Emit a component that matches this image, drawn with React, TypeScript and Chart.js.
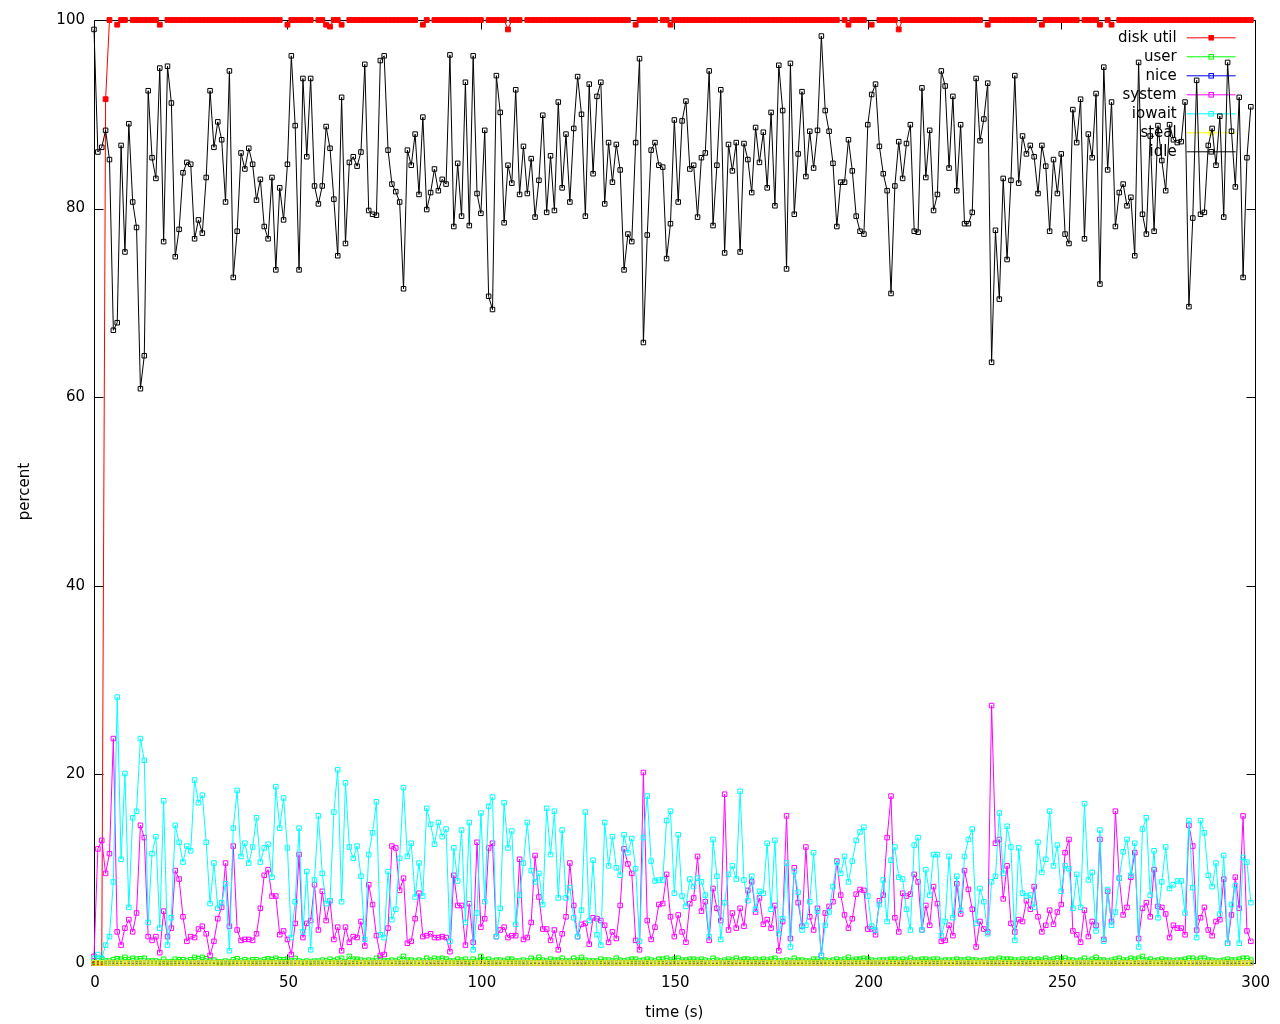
import React, { useEffect, useRef } from "react";
import { Chart, registerables } from "chart.js";

Chart.register(...registerables);

const FONT_FAMILY = '"DejaVu Sans", "Liberation Sans", sans-serif';

const seriesNames = ["disk util", "user", "nice", "system", "iowait", "steal", "idle"];
const seriesColors = ["#ff0000", "#00ff00", "#0000ff", "#ff00ff", "#00ffff", "#ffff00", "#000000"];
const xTickValues = [0, 50, 100, 150, 200, 250, 300];
const yTickValues = [0, 20, 40, 60, 80, 100];

const diskUtil: (number | null)[] = [
  0, 0, 0, 91.6, 100, null, 99.5, 100, 100, null, 100, 100, 100, 100, 100, 100, 100, 99.5, null, 100,
  100, 100, 100, 100, 100, 100, 100, 100, 100, 100, 100, 100, 100, 100, 100, 100, 100, 100, 100, 100,
  100, 100, 100, 100, 100, 100, 100, 100, 100, null, 99.5, 100, 100, 100, 100, 100, 100, null, 100, 100,
  99.5, 99.3, 100, 100, 99.5, null, 100, 100, 100, 100, 100, 100, 100, 100, 100, 100, 100, 100, 100, 100,
  100, 100, 100, 100, null, 99.5, 100, null, 100, 100, 100, 100, 100, 100, 100, 100, 100, 100, 100, 100,
  100, null, 100, 100, 100, 100, 100, 99.0, 100, 100, 100, null, 100, 100, 100, 100, 100, 100, 100, 100,
  100, 100, 100, 100, 100, 100, 100, 100, 100, 100, 100, 100, 100, 100, 100, 100, 100, 100, 100, null,
  99.5, 100, 100, 100, 100, 100, null, 100, 100, 99.5, 100, 100, 100, 100, 100, 100, 100, 100, 100, 100,
  100, 100, 100, 100, 100, 100, 100, 100, 100, 100, 100, 100, 100, 100, 100, 100, 100, 100, 100, 100,
  100, 100, 100, 100, 100, 100, 100, 100, 100, 100, 100, 100, 100, null, 100, 99.5, 100, 100, 100, 100,
  null, 99.5, null, 100, 100, 100, 100, 100, 99.0, 100, 100, 100, 100, 100, 100, 100, 100, 100, 100, 100,
  100, 100, 100, 100, 100, 100, 100, 100, 100, 100, null, 99.5, 100, 100, 100, 100, 100, 100, 100, 100,
  100, 100, 100, 100, null, 99.5, 100, 100, 100, 100, 100, 100, 100, 100, 100, null, 100, 100, 100, 100,
  99.5, null, 100, 99.5, null, 100, 100, 100, 100, 100, 100, 100, 100, 100, 100, 100, 100, 100, 100, 100,
  100, 100, 100, 100, 100, 100, 100, 100, 100, 100, 100, 100, 100, 100, 100, 100, 100, 100, 100, 100,
];

const user: number[] = [
  0.2, 0.5, 0.4, 0.2, 0.2, 0.35, 0.45, 0.4, 0.6, 0.35, 0.5, 0.4, 0.45, 0.5, 0.2, 0.2, 0.2, 0.1, 0.4, 0.1,
  0.15, 0.4, 0.35, 0.35, 0.2, 0.35, 0.6, 0.45, 0.6, 0.45, 0.2, 0.3, 0.1, 0.1, 0.2, 0.1, 0.35, 0.45, 0.2, 0.35,
  0.2, 0.35, 0.35, 0.2, 0.35, 0.45, 0.35, 0.5, 0.35, 0.35, 0.4, 0.2, 0.5, 0.2, 0.1, 0.2, 0.1, 0.2, 0.2, 0.3,
  0.2, 0.4, 0.2, 0.4, 0.5, 0.1, 0.7, 0.4, 0.4, 0.3, 0.2, 0.3, 0.2, 0.5, 0.5, 0.2, 0.2, 0.3, 0.2, 0.4,
  0.7, 0.3, 0.3, 0.2, 0.3, 0.2, 0.5, 0.3, 0.5, 0.4, 0.5, 0.4, 0.2, 0.2, 0.4, 0.3, 0.4, 0.1, 0.4, 0.2,
  0.7, 0.3, 0.4, 0.2, 0.3, 0.3, 0.2, 0.4, 0.4, 0.2, 0.2, 0.3, 0.2, 0.5, 0.3, 0.6, 0.3, 0.2, 0.4, 0.3,
  0.3, 0.5, 0.2, 0.2, 0.5, 0.3, 0.6, 0.3, 0.2, 0.2, 0.2, 0.4, 0.3, 0.3, 0.2, 0.5, 0.3, 0.2, 0.3, 0.4,
  0.4, 0.2, 0.3, 0.4, 0.3, 0.2, 0.4, 0.4, 0.5, 0.3, 0.4, 0.5, 0.3, 0.3, 0.4, 0.4, 0.3, 0.4, 0.3, 0.2,
  0.5, 0.3, 0.2, 0.3, 0.4, 0.3, 0.5, 0.3, 0.4, 0.4, 0.3, 0.4, 0.3, 0.4, 0.3, 0.4, 0.5, 0.2, 0.2, 0.3,
  0.2, 0.5, 0.3, 0.3, 0.2, 0.2, 0.4, 0.4, 0.3, 0.3, 0.2, 0.3, 0.4, 0.3, 0.4, 0.6, 0.3, 0.4, 0.4, 0.5,
  0.4, 0.3, 0.2, 0.3, 0.3, 0.3, 0.4, 0.4, 0.3, 0.4, 0.3, 0.5, 0.3, 0.3, 0.4, 0.4, 0.3, 0.4, 0.4, 0.2,
  0.3, 0.3, 0.3, 0.4, 0.3, 0.3, 0.4, 0.3, 0.3, 0.2, 0.3, 0.3, 0.4, 0.3, 0.5, 0.4, 0.4, 0.4, 0.3, 0.3,
  0.4, 0.3, 0.4, 0.3, 0.4, 0.3, 0.5, 0.3, 0.4, 0.5, 0.4, 0.5, 0.3, 0.3, 0.2, 0.3, 0.5, 0.2, 0.4, 0.6,
  0.3, 0.3, 0.2, 0.3, 0.4, 0.5, 0.3, 0.3, 0.5, 0.4, 0.5, 0.7, 0.3, 0.4, 0.2, 0.3, 0.4, 0.3, 0.3, 0.2,
  0.3, 0.3, 0.4, 0.5, 0.5, 0.3, 0.5, 0.5, 0.3, 0.3, 0.2, 0.2, 0.3, 0.4, 0.3, 0.3, 0.4, 0.5, 0.5, 0.3,
];

const nice: number[] = new Array(300).fill(0);
const steal: number[] = new Array(300).fill(0);

const system: number[] = [
  0.7, 12.1, 13.0, 9.5, 11.6, 23.8, 3.3, 1.9, 3.7, 4.6, 3.3, 5.3, 14.6, 13.3, 2.8, 2.4, 2.8, 1.1, 5.5, 2.8,
  3.7, 9.8, 8.9, 4.9, 2.3, 2.8, 2.7, 3.6, 3.9, 3.1, 0.8, 2.3, 4.7, 5.9, 10.6, 3.9, 12.4, 3.5, 2.4, 2.5,
  2.5, 2.4, 3.1, 5.8, 9.3, 9.9, 7.1, 7.1, 3.0, 3.4, 2.5, 0.9, 4.2, 11.5, 2.7, 4.2, 4.5, 8.3, 3.5, 7.6,
  4.5, 6.6, 2.5, 3.8, 1.3, 3.8, 2.2, 2.8, 2.7, 4.4, 1.8, 8.3, 6.2, 2.9, 0.8, 0.9, 3.7, 12.4, 12.2, 7.7,
  9.0, 2.1, 2.3, 4.7, 7.4, 2.8, 2.9, 3.1, 2.7, 2.7, 2.8, 2.7, 1.2, 9.3, 6.1, 6.1, 1.9, 6.3, 2.2, 12.8,
  3.8, 4.7, 12.2, 12.7, 2.8, 3.5, 3.8, 2.7, 2.9, 2.9, 11.0, 2.5, 2.7, 4.3, 11.4, 7.0, 3.6, 3.6, 2.4, 3.5,
  1.4, 3.1, 4.9, 10.6, 6.1, 2.8, 4.1, 4.2, 2.0, 4.8, 4.7, 4.5, 4.0, 2.2, 3.3, 2.6, 6.1, 12.1, 10.5, 9.5,
  2.4, 1.4, 20.2, 4.5, 2.5, 3.8, 6.2, 6.3, 9.4, 4.9, 2.8, 5.1, 3.3, 2.2, 6.3, 6.9, 11.3, 5.5, 6.5, 2.4,
  7.9, 5.8, 4.5, 17.9, 3.5, 5.3, 3.7, 5.8, 3.9, 7.7, 8.6, 5.4, 6.9, 4.1, 4.6, 3.7, 6.1, 1.3, 4.4, 15.6,
  2.6, 10.1, 6.4, 3.9, 12.3, 4.9, 3.5, 5.8, 0.8, 5.3, 6.0, 6.5, 10.8, 7.2, 5.1, 3.7, 4.7, 7.3, 7.8, 7.7,
  3.6, 3.6, 3.0, 6.6, 7.2, 13.3, 17.7, 4.8, 3.3, 7.4, 7.1, 7.3, 9.4, 8.6, 3.5, 6.1, 4.0, 8.1, 6.3, 2.3,
  2.4, 4.0, 2.9, 8.4, 5.2, 9.8, 7.8, 5.7, 1.7, 4.4, 3.6, 3.3, 27.3, 12.7, 13.1, 6.8, 10.3, 4.2, 3.3, 4.6,
  4.4, 6.6, 5.7, 8.1, 4.9, 3.3, 4.0, 5.6, 4.1, 5.4, 6.2, 11.7, 13.1, 3.4, 3.0, 2.2, 5.6, 2.8, 4.4, 4.0,
  13.1, 2.5, 7.6, 4.4, 16.1, 9.0, 5.1, 5.9, 9.1, 11.7, 2.6, 5.8, 6.4, 4.9, 9.9, 6.0, 5.9, 5.2, 2.7, 4.0,
  3.7, 3.7, 3.0, 14.6, 12.4, 3.5, 4.8, 5.9, 3.5, 2.9, 4.4, 4.6, 8.9, 2.1, 5.1, 9.1, 5.8, 15.6, 3.4, 2.3,
];

const iowait: number[] = [
  0.5, 0.9, 0.5, 1.9, 2.8, 8.6, 28.2, 11.0, 20.1, 5.9, 15.4, 16.1, 23.8, 21.5, 4.3, 11.6, 13.4, 3.7, 17.2, 1.9,
  4.8, 14.6, 12.8, 10.7, 12.4, 11.9, 19.4, 17.0, 17.8, 12.8, 6.3, 10.6, 5.8, 6.4, 8.4, 1.3, 14.3, 18.3, 11.3, 12.7,
  10.6, 12.3, 15.4, 10.7, 12.2, 12.6, 9.1, 18.7, 14.3, 17.5, 12.2, 2.7, 6.5, 14.3, 3.3, 9.7, 1.4, 8.8, 15.6, 9.5,
  6.3, 6.6, 16.0, 20.5, 6.5, 19.1, 12.3, 11.1, 12.4, 9.2, 2.5, 11.5, 13.8, 17.1, 3.0, 2.7, 9.7, 4.6, 5.7, 11.1,
  18.6, 11.3, 12.7, 7.0, 10.6, 7.1, 16.4, 14.7, 12.6, 14.9, 13.4, 14.2, 2.3, 12.2, 8.7, 14.1, 4.3, 14.9, 1.4, 5.3,
  15.9, 6.5, 16.6, 17.6, 2.8, 5.8, 17.0, 12.2, 14.0, 4.1, 7.2, 10.6, 14.9, 9.8, 8.6, 9.5, 6.2, 16.4, 11.5, 16.1,
  6.9, 14.1, 6.9, 8.0, 4.8, 2.8, 5.6, 16.0, 4.5, 10.9, 3.0, 1.9, 14.9, 10.3, 13.4, 10.1, 9.3, 13.6, 11.7, 13.2,
  10.0, 2.3, 13.3, 17.7, 10.8, 8.7, 8.8, 8.8, 15.1, 16.1, 7.4, 13.6, 7.1, 6.0, 8.9, 8.1, 9.0, 8.6, 7.2, 2.8,
  13.1, 9.2, 2.5, 6.4, 9.4, 10.3, 8.9, 18.2, 8.8, 6.6, 9.2, 5.7, 7.6, 7.4, 12.7, 5.7, 13.0, 3.1, 4.7, 10.6,
  1.7, 9.7, 7.5, 3.5, 4.0, 6.5, 11.7, 5.5, 0.8, 4.0, 5.4, 8.1, 10.7, 9.5, 11.3, 8.6, 10.8, 13.0, 13.9, 14.4,
  7.1, 3.9, 3.5, 6.2, 8.8, 4.4, 10.9, 12.3, 9.1, 8.9, 5.7, 3.5, 12.5, 13.3, 3.5, 9.9, 7.2, 11.5, 11.5, 2.9,
  4.4, 11.3, 4.8, 9.2, 5.6, 11.3, 13.1, 14.2, 4.2, 7.9, 6.5, 3.1, 8.6, 9.2, 15.9, 9.5, 14.5, 12.3, 2.4, 12.2,
  7.4, 7.1, 7.2, 5.9, 12.8, 9.6, 11.0, 16.1, 10.3, 12.5, 7.6, 10.3, 10.0, 5.8, 9.4, 5.9, 16.9, 8.8, 9.6, 3.4,
  14.1, 2.3, 7.8, 4.0, 5.4, 9.0, 11.8, 13.1, 9.3, 12.7, 1.7, 14.2, 15.4, 7.2, 11.9, 4.8, 8.6, 12.3, 7.9, 8.3,
  8.7, 8.7, 5.3, 15.1, 8.0, 2.7, 15.1, 13.8, 9.3, 8.1, 10.6, 5.2, 11.4, 2.1, 6.2, 8.2, 2.1, 11.2, 10.7, 6.4,
];

const idle: number[] = [
  99.0, 86.0, 86.5, 88.3, 85.2, 67.1, 67.9, 86.7, 75.4, 89.0, 80.7, 78.0, 60.9, 64.4, 92.5, 85.4, 83.2, 94.9, 76.5, 95.1,
  91.2, 74.9, 77.8, 83.8, 84.9, 84.7, 76.8, 78.8, 77.4, 83.3, 92.5, 86.5, 89.2, 87.3, 80.7, 94.6, 72.7, 77.6, 85.9, 84.2,
  86.4, 84.7, 80.9, 83.1, 78.1, 76.8, 83.3, 73.5, 82.2, 78.8, 84.7, 96.2, 88.8, 73.5, 93.8, 85.5, 93.8, 82.4, 80.5, 82.4,
  88.7, 86.4, 81.0, 75.0, 91.8, 76.3, 84.9, 85.5, 84.5, 86.0, 95.3, 79.8, 79.4, 79.3, 95.7, 96.2, 86.2, 82.6, 81.8, 80.7,
  71.5, 86.2, 84.6, 87.9, 81.5, 89.7, 79.9, 81.7, 84.2, 81.9, 83.1, 82.6, 96.3, 78.1, 84.8, 79.2, 93.4, 78.2, 96.2, 81.6,
  79.5, 88.3, 70.7, 69.3, 94.1, 90.2, 78.5, 84.6, 82.7, 92.6, 81.5, 86.6, 81.6, 85.3, 79.1, 83.0, 89.9, 79.6, 85.6, 79.8,
  91.3, 82.2, 87.9, 80.7, 88.5, 94.0, 90.0, 79.2, 93.2, 83.7, 91.9, 93.4, 80.5, 87.0, 82.8, 86.8, 84.1, 73.5, 77.3, 76.5,
  87.0, 95.9, 65.8, 77.2, 86.2, 87.0, 84.6, 84.4, 74.7, 78.4, 89.4, 80.7, 89.3, 91.4, 84.2, 84.6, 79.1, 85.4, 85.9, 94.6,
  78.2, 84.6, 92.6, 75.3, 86.8, 84.0, 87.0, 75.4, 86.9, 85.2, 81.7, 88.6, 84.9, 88.1, 82.2, 90.2, 80.3, 95.2, 90.4, 73.6,
  95.4, 79.4, 85.8, 92.4, 83.4, 88.2, 84.3, 88.3, 98.3, 90.4, 88.2, 84.8, 78.1, 82.8, 82.8, 87.3, 84.0, 79.2, 77.6, 77.3,
  88.9, 92.1, 93.2, 86.6, 83.7, 81.9, 71.0, 82.4, 87.1, 83.2, 86.9, 88.9, 77.6, 77.5, 92.8, 83.3, 88.3, 79.8, 81.5, 94.6,
  93.0, 84.3, 91.9, 81.9, 88.9, 78.4, 78.4, 79.6, 93.8, 87.2, 89.5, 93.3, 63.7, 77.7, 70.4, 83.2, 74.6, 83.0, 94.1, 82.7,
  87.7, 85.8, 86.7, 85.5, 81.6, 86.7, 84.5, 77.6, 85.2, 81.6, 85.8, 77.3, 76.3, 90.5, 87.0, 91.6, 76.8, 87.9, 85.4, 92.2,
  72.0, 95.0, 84.1, 91.3, 78.1, 81.7, 82.6, 80.3, 81.2, 75.0, 95.5, 79.4, 77.3, 87.7, 77.6, 88.8, 85.1, 81.9, 88.9, 87.3,
  87.0, 87.1, 91.3, 69.6, 79.0, 93.6, 79.4, 79.6, 86.7, 88.5, 84.6, 89.8, 79.1, 95.5, 88.2, 82.3, 91.8, 72.7, 85.4, 90.8,
];

const seriesValues: (number | null)[][] = [diskUtil, user, nice, system, iowait, steal, idle];

const gnuplotFrame = {
  id: "gnuplotFrame",
  beforeDatasetsDraw(chart: any) {
    const { ctx, chartArea: a, scales } = chart;
    ctx.save();
    ctx.strokeStyle = "#000";
    ctx.lineWidth = 1;
    const L = Math.round(a.left) + 0.5;
    const R = Math.round(a.right) + 0.5;
    const T = Math.round(a.top) + 0.5;
    const B = Math.round(a.bottom) + 0.5;
    ctx.beginPath();
    ctx.rect(L, T, R - L, B - T);
    ctx.stroke();
    const tl = 9;
    ctx.beginPath();
    scales.x.ticks.forEach((t: any) => {
      const px = Math.round(scales.x.getPixelForValue(t.value)) + 0.5;
      ctx.moveTo(px, B);
      ctx.lineTo(px, B - tl);
      ctx.moveTo(px, T);
      ctx.lineTo(px, T + tl);
    });
    scales.y.ticks.forEach((t: any) => {
      const py = Math.round(scales.y.getPixelForValue(t.value)) + 0.5;
      ctx.moveTo(L, py);
      ctx.lineTo(L + tl, py);
      ctx.moveTo(R, py);
      ctx.lineTo(R - tl, py);
    });
    ctx.stroke();

    ctx.font = `15px ${FONT_FAMILY}`;
    ctx.textAlign = "right";
    ctx.textBaseline = "middle";
    chart.data.datasets.forEach((ds: any, i: number) => {
      const y = a.top + 17.8 + 19 * i;
      ctx.fillStyle = "#000";
      ctx.fillText(ds.label, a.right - 78, y);
      ctx.strokeStyle = ds.borderColor;
      ctx.lineWidth = 1;
      ctx.beginPath();
      ctx.moveTo(a.right - 68, y);
      ctx.lineTo(a.right - 19, y);
      ctx.stroke();
      const cx = a.right - 43.5;
      const s = 4.5;
      if (i === 0) {
        ctx.fillStyle = ds.borderColor;
        ctx.fillRect(cx - s / 2 - 0.5, y - s / 2 - 0.5, s + 1, s + 1);
      } else {
        ctx.strokeRect(cx - s / 2, y - s / 2, s, s);
      }
    });
    ctx.restore();
  },
};

export default function App() {
  const canvasRef = useRef<HTMLCanvasElement | null>(null);

  useEffect(() => {
    const canvas = canvasRef.current;
    if (!canvas) return;
    const font = { family: FONT_FAMILY, size: 15 };
    const chart = new Chart(canvas, {
      type: "line",
      data: {
        datasets: seriesValues.map((vals, i) => ({
          label: seriesNames[i],
          data: vals.map((v, t) => ({ x: t, y: v })),
          borderColor: seriesColors[i],
          backgroundColor: seriesColors[i],
          pointBorderColor: seriesColors[i],
          pointBackgroundColor: i === 0 ? seriesColors[i] : "rgba(0,0,0,0)",
          pointStyle: "rect",
          pointRadius: i === 0 ? 3.4 : 3.2,
          pointBorderWidth: 1,
          pointHoverRadius: 3.2,
          borderWidth: 1,
          tension: 0,
          spanGaps: false,
          fill: false,
          order: 6 - i,
          clip: 8,
        })) as any,
      },
      options: {
        animation: false,
        responsive: false,
        devicePixelRatio: 1,
        events: [],
        layout: { padding: { top: 20, right: 25, left: 0, bottom: 0 } },
        plugins: {
          legend: { display: false },
          tooltip: { enabled: false },
        },
        scales: {
          x: {
            type: "linear",
            min: 0,
            max: 300,
            afterBuildTicks: (scale: any) => {
              scale.ticks = xTickValues.map((v) => ({ value: v }));
            },
            afterFit: (scale: any) => {
              scale.height = 61;
            },
            grid: { display: false, drawTicks: false },
            border: { display: false },
            ticks: { font, color: "#000", padding: 11, maxRotation: 0, autoSkip: false, labelOffset: 1 },
            title: {
              display: true,
              text: "time (s)",
              font,
              color: "#000",
              padding: { top: 0, bottom: 2 },
            },
          },
          y: {
            type: "linear",
            min: 0,
            max: 100,
            afterBuildTicks: (scale: any) => {
              scale.ticks = yTickValues.map((v) => ({ value: v }));
            },
            afterFit: (scale: any) => {
              scale.width = 94;
            },
            grid: { display: false, drawTicks: false },
            border: { display: false },
            ticks: { font, color: "#000", padding: 9, autoSkip: false },
            title: {
              display: true,
              text: "percent",
              font,
              color: "#000",
              padding: { top: 16, bottom: 0 },
            },
          },
        },
      } as any,
      plugins: [gnuplotFrame],
    });
    return () => chart.destroy();
  }, []);

  return (
    <div style={{ position: "absolute", left: 0, top: 0, width: 1280, height: 1024, background: "#fff" }}>
      <canvas ref={canvasRef} width={1280} height={1024} style={{ display: "block", width: 1280, height: 1024 }} />
    </div>
  );
}
